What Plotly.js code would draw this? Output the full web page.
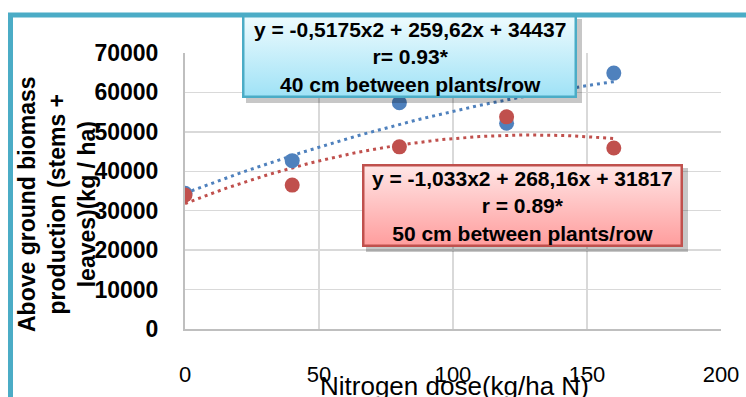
<!DOCTYPE html>
<html>
<head>
<meta charset="utf-8">
<script src="https://cdn.plot.ly/plotly-3.0.1.min.js"></script>
<style>
  html, body { margin: 0; padding: 0; background: #ffffff; }
  #chart { width: 746px; height: 397px; }
</style>
</head>
<body>
<div id="chart"></div>
<script>
// ---- data ----
const doses = [0, 40, 80, 120, 160];
const biomass40cm = [34400, 42700, 57400, 52200, 64900];
const biomass50cm = [34000, 36500, 46200, 53800, 45900];
// polynomial trendline coefficients shown on the chart (a*x^2 + b*x + c)
const fit40cm = [-0.5175, 259.62, 34437];
const fit50cm = [-1.033, 268.16, 31817];
const xTicks = [0, 50, 100, 150, 200];
const yTicks = [0, 10000, 20000, 30000, 40000, 50000, 60000, 70000];
const label40 = 'y = -0,5175x2 + 259,62x + 34437<br>r= 0.93*<br>40 cm between plants/row';
const label50 = 'y = -1,033x2 + 268,16x + 31817<br>r = 0.89*<br>50 cm between plants/row';
const xTitle = 'Nitrogen dose(kg/ha N)';
const yTitle = 'Above ground biomass<br>production (stems +<br>leaves)(kg / ha)';

// ---- layout geometry (pixels) ----
const W = 746, H = 397;
const L = 185, R = 721, T = 53, B = 329;
const pw = R - L, ph = B - T;
const px = x => (x - L) / pw;
const py = y => (B - y) / ph;

const BLUE = '#4F81BD', RED = '#C0504D';

function trend(coef, x0, x1, step) {
  const xs = [], ys = [];
  for (let x = x0; x <= x1 + 1e-9; x += step) {
    xs.push(x);
    ys.push(coef[0] * x * x + coef[1] * x + coef[2]);
  }
  return { xs, ys };
}
const t40 = trend(fit40cm, doses[0], doses[doses.length - 1], 2);
const t50 = trend(fit50cm, doses[0], doses[doses.length - 1], 2);

const FONT = 'Liberation Sans, Arial, sans-serif';

const traces = [
  { x: t40.xs, y: t40.ys, mode: 'lines', line: { color: BLUE, width: 3, dash: '3px,4px' }, hoverinfo: 'skip', showlegend: false },
  { x: t50.xs, y: t50.ys, mode: 'lines', line: { color: RED, width: 3, dash: '3px,4px' }, hoverinfo: 'skip', showlegend: false },
  { x: doses, y: biomass40cm, mode: 'markers', name: '40 cm', marker: { color: BLUE, size: 15 }, showlegend: false },
  { x: doses, y: biomass50cm, mode: 'markers', name: '50 cm', marker: { color: RED, size: 15 }, showlegend: false }
];

// gradient label box (shadow + gradient + border) as an SVG image
function boxImage(x0, y0, x1, y1, top, bottom, border) {
  const w = x1 - x0 + 5, h = y1 - y0 + 5;
  const svg =
    '<svg xmlns="http://www.w3.org/2000/svg" width="' + w + '" height="' + h + '" viewBox="0 0 ' + w + ' ' + h + '" preserveAspectRatio="none">' +
    '<defs><linearGradient id="g" x1="0" y1="0" x2="0" y2="1">' +
    '<stop offset="0" stop-color="' + top + '"/><stop offset="1" stop-color="' + bottom + '"/></linearGradient></defs>' +
    '<rect x="4" y="4" width="' + (w - 4) + '" height="' + (h - 4) + '" fill="rgba(0,0,0,0.22)"/>' +
    '<rect x="1.25" y="1.25" width="' + (w - 5 - 2.5) + '" height="' + (h - 5 - 2.5) + '" fill="url(#g)" stroke="' + border + '" stroke-width="2.5"/>' +
    '</svg>';
  return {
    source: 'data:image/svg+xml;charset=utf-8,' + encodeURIComponent(svg),
    xref: 'paper', yref: 'paper', x: px(x0), y: py(y0),
    sizex: w / pw, sizey: h / ph, xanchor: 'left', yanchor: 'top',
    sizing: 'stretch', layer: 'above'
  };
}

const layout = {
  width: W, height: H,
  margin: { l: L, r: W - R, t: T, b: H - B, pad: 0 },
  paper_bgcolor: '#ffffff', plot_bgcolor: '#ffffff',
  font: { family: FONT, color: '#000000' },
  showlegend: false,
  xaxis: {
    range: [0, 200], tickvals: xTicks, ticktext: xTicks.map(String),
    showgrid: true, gridcolor: '#d9d9d9', gridwidth: 1.5,
    showline: true, linecolor: '#bfbfbf', linewidth: 2,
    zeroline: false, ticks: '', ticklabelstandoff: 25,
    tickfont: { family: FONT, size: 22, color: '#000' }, fixedrange: true
  },
  yaxis: {
    range: [0, 70000], tickvals: yTicks, ticktext: yTicks.map(String),
    showgrid: true, gridcolor: '#d9d9d9', gridwidth: 1.5,
    showline: true, linecolor: '#bfbfbf', linewidth: 2,
    zeroline: false, ticks: '', ticklabelstandoff: 20,
    tickfont: { family: FONT, size: 23, color: '#000', weight: 'bold' }, fixedrange: true
  },
  shapes: [
    // teal frame around the figure
    { type: 'rect', xref: 'paper', yref: 'paper', x0: px(10.5), x1: px(W + 30), y0: py(H + 30), y1: py(15),
      fillcolor: 'rgba(0,0,0,0)', line: { color: '#4BACC6', width: 5 }, layer: 'below' }
  ],
  images: [
    boxImage(242, 15, 577, 98, '#eefbfe', '#9fe2f6', '#4BACC6'),
    boxImage(362, 164, 683, 247, '#ffe6e6', '#ff9d9d', '#C0504D')
  ],
  annotations: [
    { xref: 'paper', yref: 'paper', x: px(409.5), y: py(57.5), xanchor: 'center', yanchor: 'middle',
      text: label40, showarrow: false, align: 'center',
      font: { family: FONT, size: 21, color: '#000', weight: 'bold' } },
    { xref: 'paper', yref: 'paper', x: px(522.5), y: py(205.5), xanchor: 'center', yanchor: 'middle',
      text: label50, showarrow: false, align: 'center',
      font: { family: FONT, size: 21, color: '#000', weight: 'bold' } },
    { xref: 'paper', yref: 'paper', x: px(454), y: py(386), xanchor: 'center', yanchor: 'middle',
      text: xTitle, showarrow: false, font: { family: FONT, size: 26, color: '#000' } },
    { xref: 'paper', yref: 'paper', x: px(57), y: py(204), xanchor: 'center', yanchor: 'middle',
      text: yTitle, showarrow: false, textangle: -90, align: 'center',
      font: { family: FONT, size: 23, color: '#000', weight: 'bold' } }
  ]
};

Plotly.newPlot('chart', traces, layout, { displayModeBar: false, staticPlot: true });
</script>
</body>
</html>
